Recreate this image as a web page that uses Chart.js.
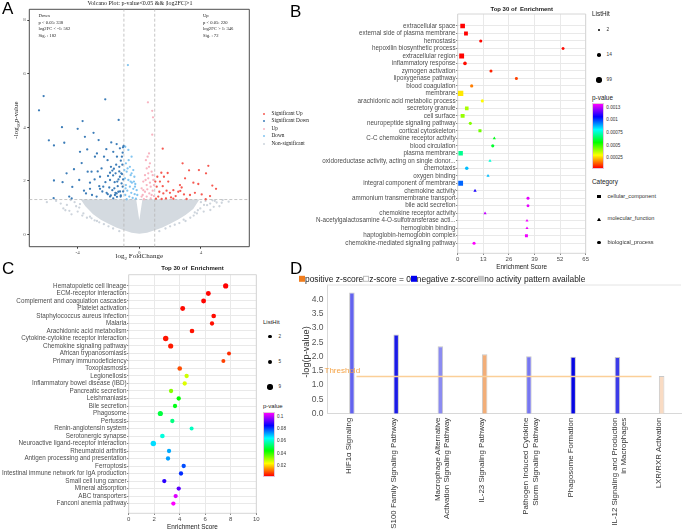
<!DOCTYPE html>
<html>
<head>
<meta charset="utf-8">
<title>Volcano and enrichment panels</title>
<script src="https://cdn.jsdelivr.net/npm/chart.js@4.4.1/dist/chart.umd.min.js"></script>
<style>
  body { margin: 0; background: #fff; }
  #fig { position: relative; width: 685px; height: 532px; overflow: hidden; font-family: 'Liberation Sans', Arial, sans-serif; color: #1a1a1a; }
  #fig canvas { position: absolute; }
  .lbl { position: absolute; white-space: pre; line-height: 1; transform: translateY(-50%); }
  .mid { transform: translate(-50%, -50%); }
  .rot { transform: translate(-50%, -50%) rotate(-90deg); }
  .serif { font-family: 'Liberation Serif', 'Times New Roman', serif; }
  .panel { position: absolute; font-size: 17px; line-height: 17px; color: #000; }
  .sw { display: inline-block; width: 6px; height: 6px; vertical-align: -0.5px; }
</style>
</head>
<body>
<div id="fig">
  <canvas id="chartA" width="255" height="265" style="left:0;top:0"></canvas>
  <canvas id="chartB" width="290" height="262" style="left:300px;top:0"></canvas>
  <canvas id="chartC" width="262" height="267" style="left:0;top:265px"></canvas>
  <canvas id="chartD" width="400" height="262" style="left:285px;top:270px"></canvas>
  <div class="panel" style="left:2px;top:0">A</div>
  <div class="panel" style="left:290px;top:3px">B</div>
  <div class="panel" style="left:2px;top:260px">C</div>
  <div class="panel" style="left:290px;top:260px">D</div>
</div>
<script>
// ---------- Panel A: volcano plot (log2FC, -log10 p) ----------
const sigUpPts = [[1.52,3.2],[2.81,2.65],[3.23,2.39],[3.87,2.4],[4.48,2.56],[4.33,2.28],[3.51,1.93],[3.83,1.88],
  [4.74,1.82],[4.98,1.7],[2.75,1.75],[2.66,1.62],[2.9,1.49],[3.29,1.47],[3.61,1.55],[4.05,1.49],[4.59,1.43],
  [4.31,1.31],[1.84,2.29],[1.43,2.3],[1.6,2.15],[1.34,1.97],[1.13,1.78],[1.3,1.59],[1.56,1.53],[1.77,1.63],
  [1.99,1.55],[2.21,1.65],[2.36,1.43],[2.53,1.59],[2.06,1.38],[1.73,1.34],[1.23,1.41],[1.08,1.33],[1.52,1.8],
  [1.88,1.97],[1.17,2.15],[1.04,1.97],[1.45,1.32],[2.21,1.33],[3.07,1.32],[2.64,1.84],[2.97,2.09]];
const sigDownPts = [[-6.51,4.63],[-6.21,5.16],[-5.87,3.51],[-5.54,3.32],[-5.54,2.01],[-5.56,1.35],[-5.02,4.0],
  [-4.87,3.42],[-4.98,1.95],[-4.35,1.77],[-4.55,1.41],[-4.24,2.43],[-4.0,3.94],[-3.85,3.08],[-3.68,4.23],
  [-3.74,2.66],[-3.53,3.64],[-3.38,3.17],[-3.35,2.34],[-3.2,1.93],[-3.46,1.53],[-2.97,3.79],[-2.88,2.9],
  [-2.75,3.02],[-2.64,3.52],[-2.55,2.15],[-2.55,1.7],[-2.77,1.41],[-2.45,2.46],[-2.34,1.78],[-2.21,5.04],
  [-2.14,3.18],[-2.06,2.77],[-2.03,2.18],[-1.9,2.03],[-1.82,3.43],[-1.75,2.38],[-1.69,3.08],[-1.62,1.72],
  [-1.47,3.37],[-1.43,1.97],[-1.34,4.27],[-1.3,2.52],[-1.26,3.21],[-1.17,2.28],[-1.13,2.9],[-1.06,3.25],
  [-1.02,3.3],[-2.12,1.55],[-1.9,1.41],[-1.58,1.47],[-1.36,1.59],[-1.21,1.41],[-1.08,1.78],[-1.47,1.53],
  [-1.69,1.34],[-3.07,1.47],[-3.59,1.63],[-3.9,2.03],[-4.39,1.34],[-4.72,2.28],[-1.26,2.15],[-1.54,2.28],
  [-1.84,2.52],[-2.29,2.9],[-3.1,2.34],[-1.15,1.9],[-1.25,1.6],[-1.4,1.8],[-1.6,1.95],[-1.75,1.65],
  [-1.95,1.75],[-2.2,1.95],[-2.4,1.6],[-1.05,2.05],[-1.3,2.35],[-1.5,2.6],[-1.7,2.2],[-1.1,2.6],[-1.2,1.45],
  [-1.45,1.4],[-1.85,1.45],[-2.05,1.5],[-2.6,1.8],[-2.9,2.05],[-3.2,1.7],[-1.65,2.45],[-1.35,2.05],
  [-1.05,1.6],[-1.12,2.25],[-1.55,1.55],[-2.7,2.35],[-1.9,2.3],[-1.08,3.05],[-1.2,2.75],[-1.45,2.9]];
const upPts = [[0.56,4.93],[0.84,4.61],[0.89,4.37],[0.84,3.72],[0.63,3.02],[0.54,2.9],[0.69,2.65],[0.48,2.46],
  [0.8,2.34],[0.37,2.21],[0.58,2.09],[0.91,2.03],[0.26,1.97],[0.48,1.84],[0.74,1.78],[0.15,1.72],[0.37,1.59],
  [0.65,1.53],[0.87,1.63],[0.22,1.47],[0.48,1.41],[0.74,1.34],[0.95,1.43],[0.3,1.31],[0.58,2.28],[0.41,2.03],
  [0.69,1.93],[0.52,1.68],[0.8,1.47],[0.26,1.65],[0.15,1.41],[0.63,2.52],[0.43,2.77],[0.95,1.84],[0.87,2.21]];
const downPts = [[-0.74,6.32],[-0.91,3.27],[-0.71,3.15],[-0.5,2.9],[-0.87,2.65],[-0.61,2.52],[-0.39,2.4],
  [-0.82,2.34],[-0.56,2.21],[-0.32,2.15],[-0.93,2.09],[-0.71,2.03],[-0.48,1.93],[-0.26,1.88],[-0.87,1.84],
  [-0.61,1.78],[-0.39,1.7],[-0.17,1.65],[-0.78,1.63],[-0.52,1.55],[-0.3,1.5],[-0.91,1.47],[-0.65,1.41],
  [-0.43,1.36],[-0.22,1.33],[-0.82,1.31],[-0.5,2.28],[-0.76,2.46],[-0.97,2.4],[-0.69,2.77],[-0.35,1.97],
  [-0.13,1.47],[-0.89,1.72],[-0.56,1.97],[-0.28,1.78]];
const nonSigPts = [[-4.93,0.97],[-4.54,0.88],[-3.85,1.13],[-3.63,0.78],[-3.2,0.66],[-5.4,1.25],[-4.2,1.2],
  [-3.9,1.0],[-4.7,1.1],[-4.0,0.85],[-3.7,0.7],[-3.1,0.6],[-2.9,0.52],[-2.6,0.45],[-2.3,0.38],[-2.0,0.3],
  [-1.7,0.22],[-1.3,0.12],[-6.0,1.2],[-4.4,0.75],[-4.45,1.28],[-5.1,1.15],[-4.1,1.05],[-3.4,0.62],
  [-2.75,0.5],[-4.8,0.9],
  [5.02,1.19],[5.41,1.28],[4.83,1.03],[4.61,0.91],[4.18,0.85],[3.74,0.78],[3.31,0.62],[2.88,0.55],[4.4,1.09],
  [3.96,0.97],[3.53,0.7],[5.35,1.18],[5.8,1.22],[4.0,1.2],[4.3,1.25],[2.6,0.42],[2.3,0.36],[2.0,0.3],[1.7,0.22],
  [1.3,0.12],[3.0,0.5],[4.9,1.25],[3.8,0.9],[4.6,1.15],[5.2,1.05],[4.2,1.1],[3.6,0.82],[4.75,1.27]];
// outline of the dense non-significant cloud (upper edge with the notch at 0, lower edge)
const cloudTop = [[-3.8,1.3],[-0.2,1.3],[0,0.53],[0.2,1.3],[3.9,1.3]];
const cloudBottom = [[-3.8,1.3],[-3.5,1.05],[-3,0.75],[-2.5,0.55],[-2,0.4],[-1.5,0.26],[-1,0.15],[-0.5,0.06],
  [0,0.02],[0.5,0.06],[1,0.15],[1.5,0.26],[2,0.4],[2.5,0.55],[3,0.72],[3.5,0.95],[3.9,1.3]];
const fcCut = 1;
const pCut = 1.3;
const volcanoXTicks = [-4, 0, 4];
const volcanoYTicks = [0, 2, 4, 6, 8];
const downNotes = ['Down', 'p < 0.05: 338', 'log2FC < -1: 562', 'Sig. : 182'];
const upNotes = ['Up', 'p < 0.05: 220', 'log2FC > 1: 346', 'Sig. : 72'];
const volcanoLegend = ['Significant Up', 'Significant Down', 'Up', 'Down', 'Non-significant'];

// ---------- Panel B: GO top 30 ----------
const goTerms = ['extracellular space','external side of plasma membrane','hemostasis','hepoxilin biosynthetic process',
  'extracellular region','inflammatory response','zymogen activation','lipoxygenase pathway','blood coagulation',
  'membrane','arachidonic acid metabolic process','secretory granule','cell surface','neuropeptide signaling pathway',
  'cortical cytoskeleton','C-C chemokine receptor activity','blood circulation','plasma membrane',
  'oxidoreductase activity, acting on single donor...','chemotaxis','oxygen binding','integral component of membrane',
  'chemokine activity','ammonium transmembrane transport','bile acid secretion','chemokine receptor activity',
  'N-acetylgalactosamine 4-O-sulfotransferase acti...','hemoglobin binding','haptoglobin-hemoglobin complex',
  'chemokine-mediated signaling pathway'];
const goScore = [2.5,4.2,11.7,53.5,2.0,3.7,16.9,29.8,7.1,1.5,12.5,4.6,2.5,6.4,11.3,18.6,17.8,1.5,16.4,4.6,15.4,1.5,
  8.8,35.7,35.7,13.9,35.2,35.2,34.9,8.3];
const goPval = [0.000033,0.000035,0.00004,0.000042,0.000036,0.000045,0.000068,0.0001,0.00016,0.00027,0.00029,
  0.00038,0.0004,0.00042,0.00044,0.00058,0.0006,0.0007,0.00077,0.00088,0.00088,0.00097,0.0011,0.00131,0.00131,
  0.00127,0.00132,0.00132,0.00132,0.001335];
const goHits = [55,20,4,2,70,14,3,2,5,99,3,14,25,4,3,3,4,45,3,10,3,65,4,2,2,3,2,2,2,3];
const goCategory = ['CC','CC','BP','BP','CC','BP','BP','BP','BP','CC','BP','CC','CC','BP','CC','MF','BP','CC','MF',
  'BP','MF','CC','MF','BP','BP','MF','MF','MF','CC','BP'];
const goXTicks = [0, 13, 26, 39, 52, 65];
const goPRange = [0.000033, 0.001335];
const goLegendTicks = [0.00125, 0.001, 0.00075, 0.0005, 0.00025];
const goLegendTickText = ['0.0013', '0.001', '0.00075', '0.0005', '0.00025'];
const goLegendHits = [2, 14, 99];

// ---------- Panel C: KEGG top 30 ----------
const keggTerms = ['Hematopoietic cell lineage','ECM-receptor interaction','Complement and coagulation cascades',
  'Platelet activation','Staphylococcus aureus infection','Malaria','Arachidonic acid metabolism',
  'Cytokine-cytokine receptor interaction','Chemokine signaling pathway','African trypanosomiasis',
  'Primary immunodeficiency','Toxoplasmosis','Legionellosis','Inflammatory bowel disease (IBD)','Pancreatic secretion',
  'Leishmaniasis','Bile secretion','Phagosome','Pertussis','Renin-angiotensin system','Serotonergic synapse',
  'Neuroactive ligand-receptor interaction','Rheumatoid arthritis','Antigen processing and presentation','Ferroptosis',
  'Intestinal immune network for IgA production','Small cell lung cancer','Mineral absorption','ABC transporters',
  'Fanconi anemia pathway'];
const keggScore = [7.6,6.24,5.87,4.23,6.66,6.53,4.96,2.9,3.29,7.86,7.42,4.0,4.54,4.39,3.32,3.92,3.63,2.48,3.42,4.93,
  2.64,1.93,3.16,3.08,4.31,4.1,2.79,3.92,3.68,3.5];
const keggPval = [0.0018,0.002,0.0022,0.0025,0.0027,0.003,0.0033,0.0035,0.004,0.0055,0.0072,0.0082,0.0275,0.026,
  0.0333,0.0447,0.0465,0.05,0.0554,0.0608,0.0633,0.069,0.0733,0.0743,0.0811,0.084,0.0911,0.0954,0.1061,0.109];
const keggHits = [8,7,7,7,6,5,6,9,8,4,4,6,5,5,5,5,5,8,5,4,6,9,5,5,5,5,5,5,5,5];
const keggXTicks = [0, 2, 4, 6, 8, 10];
const keggPRange = [0.0018, 0.109];
const keggLegendTicks = [0.1, 0.08, 0.06, 0.04, 0.02];
const keggLegendHits = [2, 5, 9];

// ---------- Panel D: IPA canonical pathways ----------
const ipaPathways = ['HIF1\u03b1 Signaling', 'S100 Family Signaling Pathway',
  ['Macrophage Alternative', 'Activation Signaling Pathway'], 'IL-23 Signaling Pathway',
  ['Pathogen Induced Cytokine', 'Storm Signaling Pathway'], 'Phagosome Formation',
  ['IL-12 Signaling and Production', 'in Macrophages'], 'LXR/RXR Activation'];
const ipaLogP = [4.24, 2.77, 2.36, 2.08, 2.01, 1.99, 1.98, 1.32];
const ipaThreshold = 1.3;
const ipaBarColors = ['#6363ee', '#1b1be6', '#8b8bf1', '#f2ae78', '#7676f0', '#0606e2', '#3b3be9', '#f9dbc3'];

// ---------- helpers ----------
const fig = document.getElementById('fig');
Chart.defaults.font.family = "'Liberation Sans', Arial, sans-serif";
Chart.defaults.animation = false;

function addLabel(html, x, y, cls, css) {
  const d = document.createElement('div');
  d.className = 'lbl ' + (cls || '');
  d.innerHTML = html;
  d.style.left = x + 'px';
  d.style.top = y + 'px';
  if (css) Object.assign(d.style, css);
  fig.appendChild(d);
  return d;
}

function addShape(x, y, w, h, css) {
  const d = document.createElement('div');
  Object.assign(d.style, { position: 'absolute', left: (x - w / 2) + 'px', top: (y - h / 2) + 'px',
    width: w + 'px', height: h + 'px' }, css);
  fig.appendChild(d);
  return d;
}

function rainbow(p, range) {
  const t = Math.min(1, Math.max(0, (p - range[0]) / (range[1] - range[0])));
  return 'hsl(' + (300 * t).toFixed(1) + ', 100%, 50%)';
}
const rainbowGradient = 'linear-gradient(to top, hsl(0,100%,50%), hsl(60,100%,50%), hsl(120,100%,50%), ' +
  'hsl(180,100%,50%), hsl(240,100%,50%), hsl(300,100%,50%))';

const xy = ([x, y]) => ({ x, y });

// draws the panel frame on chosen sides of the chart area
const framePlugin = {
  id: 'frame',
  beforeDatasetsDraw(chart, args, opts) {
    if (!opts.color) return;
    const { ctx, chartArea: a } = chart;
    const sides = opts.sides || 'tblr';
    ctx.save();
    ctx.strokeStyle = opts.color;
    ctx.lineWidth = opts.width || 1;
    ctx.beginPath();
    if (sides.includes('t')) { ctx.moveTo(a.left, a.top); ctx.lineTo(a.right, a.top); }
    if (sides.includes('b')) { ctx.moveTo(a.left, a.bottom); ctx.lineTo(a.right, a.bottom); }
    if (sides.includes('l')) { ctx.moveTo(a.left, a.top); ctx.lineTo(a.left, a.bottom); }
    if (sides.includes('r')) { ctx.moveTo(a.right, a.top); ctx.lineTo(a.right, a.bottom); }
    ctx.stroke();
    ctx.restore();
  }
};
Chart.register(framePlugin);

// ---------- Panel A ----------
const volcanoColors = { sigUp: '#f65a52', sigDown: '#3d7db8', up: '#f8b4c1', down: '#82c5f1', non: '#cdd4dc' };
const xMinA = -7.14, xMaxA = 7.14, yMinA = -0.46, yMaxA = 8.4;

function pointSet(pts, color, order) {
  return { data: pts.map(xy), backgroundColor: color, borderWidth: 0, pointRadius: 1.15, order: order };
}
function dashLine(pts) {
  return { type: 'line', data: pts.map(xy), borderColor: '#b8b8b8', borderWidth: 0.8, borderDash: [3, 2],
    pointRadius: 0, fill: false, order: 4 };
}

new Chart(document.getElementById('chartA'), {
  type: 'scatter',
  data: {
    datasets: [
      { type: 'line', data: cloudTop.map(xy), fill: '+1', backgroundColor: '#d4dae0', borderColor: 'transparent',
        borderWidth: 0, pointRadius: 0, order: 6 },
      { type: 'line', data: cloudBottom.map(xy), fill: false, borderColor: 'transparent', borderWidth: 0,
        pointRadius: 0, order: 6 },
      pointSet(nonSigPts, volcanoColors.non, 5),
      dashLine([[-fcCut, yMinA], [-fcCut, yMaxA]]),
      dashLine([[fcCut, yMinA], [fcCut, yMaxA]]),
      dashLine([[xMinA, pCut], [xMaxA, pCut]]),
      pointSet(downPts, volcanoColors.down, 3),
      pointSet(upPts, volcanoColors.up, 2),
      pointSet(sigDownPts, volcanoColors.sigDown, 1),
      pointSet(sigUpPts, volcanoColors.sigUp, 0)
    ]
  },
  options: {
    responsive: false, events: [],
    layout: { padding: { left: 0, top: 9.3, right: 5.7, bottom: 0 } },
    plugins: { legend: { display: false }, tooltip: { enabled: false }, frame: { color: '#3a3a3a', width: 0.9 } },
    scales: {
      x: {
        type: 'linear', min: xMinA, max: xMaxA,
        afterBuildTicks: s => { s.ticks = volcanoXTicks.map(v => ({ value: v })); },
        grid: { drawOnChartArea: false, tickLength: 2, color: '#3a3a3a' }, border: { display: false },
        ticks: { font: { family: "'Liberation Serif', serif", size: 5 }, color: '#555', padding: 0.5 },
        afterFit: s => { s.height = 18.3; }
      },
      y: {
        type: 'linear', min: yMinA, max: yMaxA,
        afterBuildTicks: s => { s.ticks = volcanoYTicks.map(v => ({ value: v })); },
        grid: { drawOnChartArea: false, tickLength: 2, color: '#3a3a3a' }, border: { display: false },
        ticks: { font: { family: "'Liberation Serif', serif", size: 5 }, color: '#555', padding: 1.5 },
        afterFit: s => { s.width = 29.3; }
      }
    }
  }
});

addLabel('Volcano Plot: p-value&lt;0.05 &amp;&amp; |log2FC|&gt;1', 140, 2.8, 'mid serif', { fontSize: '6px' });
downNotes.forEach((t, i) => addLabel(t, 38.5, 15.7 + i * 6.85, 'serif', { fontSize: '4.6px' }));
upNotes.forEach((t, i) => addLabel(t, 203, 15.7 + i * 6.85, 'serif', { fontSize: '4.6px' }));
addLabel('log<sub style="font-size:5px">2</sub> FoldChange', 139.3, 256.7, 'mid serif', { fontSize: '7px' });
addLabel('-log<sub style="font-size:5px">10</sub>p-value', 16.5, 120, 'rot serif', { fontSize: '7px' });
const legendColorsA = [volcanoColors.sigUp, volcanoColors.sigDown, volcanoColors.up, volcanoColors.down, volcanoColors.non];
volcanoLegend.forEach((t, i) => {
  const y = 113.7 + i * 7.5;
  addShape(264.3, y, 2.4, 2.4, { background: legendColorsA[i], borderRadius: '50%' });
  addLabel(t, 271.5, y, 'serif', { fontSize: '5.3px' });
});

// ---------- dot plots (B and C) ----------
function dotPlot(canvasId, cfg) {
  return new Chart(document.getElementById(canvasId), {
    type: 'scatter',
    data: {
      datasets: [{
        data: cfg.scores.map((v, i) => ({ x: v, y: i })),
        backgroundColor: cfg.colors, pointStyle: cfg.styles, pointRadius: cfg.radii, borderWidth: 0
      }]
    },
    options: {
      responsive: false, events: [],
      layout: { padding: cfg.padding },
      plugins: { legend: { display: false }, tooltip: { enabled: false }, frame: { color: '#d6d6d6', width: 1 } },
      scales: {
        x: {
          type: 'linear', min: cfg.xTicks[0], max: cfg.xTicks[cfg.xTicks.length - 1],
          afterBuildTicks: s => { s.ticks = cfg.xTicks.map(v => ({ value: v })); },
          grid: { color: '#e9e9e9', tickColor: '#666', tickLength: 1.5 }, border: { display: false },
          ticks: { font: { size: 6 }, color: '#4d4d4d', padding: 0.5 },
          afterFit: s => { s.height = cfg.xHeight; }
        },
        y: {
          type: 'linear', reverse: true, min: cfg.yRange[0], max: cfg.yRange[1],
          afterBuildTicks: s => { s.ticks = cfg.terms.map((t, i) => ({ value: i })); },
          grid: { color: '#e9e9e9', tickColor: '#666', tickLength: 1.5 }, border: { display: false },
          ticks: { font: { size: 6.3 }, color: '#4d4d4d', padding: 0.6, autoSkip: false,
            callback: v => cfg.terms[v] },
          afterFit: s => { s.width = cfg.yWidth; }
        }
      }
    }
  });
}

function colorBar(x, top, w, h, range, ticks, texts) {
  addShape(x + w / 2, top + h / 2, w, h, { background: rainbowGradient, boxSizing: 'border-box',
    border: '0.5px solid #e3c6dc' });
  ticks.forEach((p, i) => {
    const y = top + h - (p - range[0]) / (range[1] - range[0]) * h;
    addLabel(texts ? texts[i] : String(p), x + w + 2, y, '', { fontSize: '4.6px', color: '#333' });
  });
}

// Panel B
const goShape = { CC: 'rect', MF: 'triangle', BP: 'circle' };
const goRadius = (hit, cat) => {
  const r = 1.3 + 0.14 * Math.sqrt(hit);
  return cat === 'CC' ? r * 1.4 : cat === 'MF' ? r * 1.2 : r;
};
dotPlot('chartB', {
  terms: goTerms, scores: goScore, xTicks: goXTicks,
  colors: goPval.map(p => rainbow(p, goPRange)),
  styles: goCategory.map(c => goShape[c]),
  radii: goHits.map((h, i) => goRadius(h, goCategory[i])),
  padding: { left: 0, top: 14, right: 4.3, bottom: 0 },
  yWidth: 157.7, xHeight: 8.7, yRange: [-1.6, 30.35]
});
addLabel('Top 30 of  Enrichment', 521.7, 9.3, 'mid', { fontSize: '6px', fontWeight: 'bold' });
addLabel('Enrichment Score', 521.7, 266.7, 'mid', { fontSize: '6.4px', color: '#222' });
addLabel('ListHit', 592, 14, '', { fontSize: '6.4px' });
goLegendHits.forEach((h, i) => {
  const y = [30, 54.7, 80][i];
  const r = goRadius(h, 'BP');
  addShape(599, y, 2 * r, 2 * r, { background: '#000', borderRadius: '50%' });
  addLabel(String(h), 606.5, y, '', { fontSize: '4.8px', color: '#333' });
});
addLabel('p-value', 592, 98.3, '', { fontSize: '6.4px' });
colorBar(591.7, 103.3, 12.6, 66, goPRange, goLegendTicks, goLegendTickText);
addLabel('Category', 592, 181.7, '', { fontSize: '6.4px' });
addShape(599, 196.7, 3.6, 3.6, { background: '#000' });
addShape(599, 219.3, 4, 3.6, { background: '#000', clipPath: 'polygon(50% 0, 100% 100%, 0 100%)' });
addShape(599, 242.7, 3.6, 3.6, { background: '#000', borderRadius: '50%' });
['cellular_component', 'molecular_function', 'biological_process'].forEach((t, i) =>
  addLabel(t, 607.5, [196.7, 219.3, 242.7][i], '', { fontSize: '5.6px', color: '#333' }));

// Panel C
const keggRadius = hit => 0.55 + 0.72 * Math.sqrt(hit);
dotPlot('chartC', {
  terms: keggTerms, scores: keggScore, xTicks: keggXTicks,
  colors: keggPval.map(p => rainbow(p, keggPRange)),
  styles: 'circle',
  radii: keggHits.map(keggRadius),
  padding: { left: 0, top: 9.7, right: 5.7, bottom: 0 },
  yWidth: 128.7, xHeight: 18.7, yRange: [-1.5, 30.3]
});
addLabel('Top 30 of  Enrichment', 192.5, 268, 'mid', { fontSize: '6px', fontWeight: 'bold' });
addLabel('Enrichment Score', 192.5, 526.7, 'mid', { fontSize: '6.4px', color: '#222' });
addLabel('ListHit', 263, 322, '', { fontSize: '6px' });
keggLegendHits.forEach((h, i) => {
  const y = [336.7, 362, 387][i];
  const r = keggRadius(h);
  addShape(270, y, 2 * r, 2 * r, { background: '#000', borderRadius: '50%' });
  addLabel(String(h), 278.5, y, '', { fontSize: '4.6px', color: '#333' });
});
addLabel('p-value', 263, 405.7, '', { fontSize: '6px' });
colorBar(262.7, 411.7, 12.3, 65, keggPRange, keggLegendTicks);

// ---------- Panel D ----------
new Chart(document.getElementById('chartD'), {
  type: 'bar',
  data: {
    labels: ipaPathways,
    datasets: [
      { type: 'line', xAxisID: 'xt', data: [{ x: 0, y: ipaThreshold }, { x: 1, y: ipaThreshold }],
        borderColor: '#fbcf98', borderWidth: 1.4, pointRadius: 0, fill: false, order: 0 },
      { data: ipaLogP, backgroundColor: ipaBarColors, borderColor: '#c8c8c8', borderWidth: 1,
        barPercentage: 1, categoryPercentage: 0.25, order: 1 }
    ]
  },
  options: {
    responsive: false, events: [],
    layout: { padding: { left: 0, top: 15, right: 4, bottom: 0 } },
    plugins: { legend: { display: false }, tooltip: { enabled: false }, frame: { color: '#e4e4e4', sides: 't' } },
    scales: {
      x: {
        grid: { display: false, drawTicks: false }, border: { color: '#d8d8d8' },
        ticks: { maxRotation: 90, minRotation: 90, autoSkip: false, font: { size: 7.9 }, color: '#333',
          padding: 4 },
        afterFit: s => { s.height = 118.3; }
      },
      xt: { type: 'linear', display: false, min: 0, max: 1 },
      y: {
        min: 0, max: 4.5,
        grid: { display: false, drawTicks: false }, border: { color: '#d8d8d8' },
        ticks: { stepSize: 0.5, font: { size: 8.5 }, color: '#555', padding: 3.5,
          callback: v => (v >= 4.5 ? '' : v.toFixed(1)) },
        afterFit: s => { s.width = 42; }
      }
    }
  }
});
addLabel('-log(p-value)', 306.7, 351.7, 'rot', { fontSize: '9.2px', color: '#333' });
addLabel('Threshold', 324.5, 371, '', { fontSize: '8px', color: '#f5a447' });
addLabel('<span class="sw" style="background:#f07d1e"></span>positive z-score' +
  '<span class="sw" style="background:#fff;box-sizing:border-box;border:0.5px solid #bbb"></span>z-score = 0' +
  '<span class="sw" style="background:#0000ee"></span>negative z-score' +
  '<span class="sw" style="background:#c4c4c4"></span>no activity pattern available',
  299, 278.5, '', { fontSize: '8.4px', color: '#222' });
</script>
</body>
</html>
